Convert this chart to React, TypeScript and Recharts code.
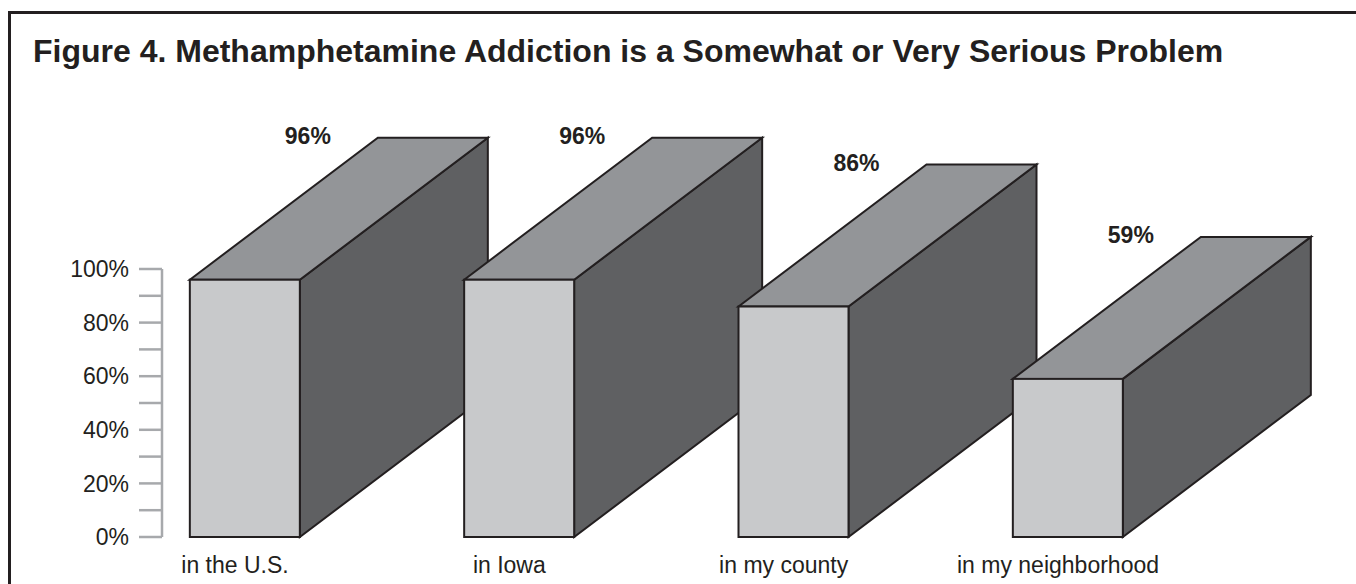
import React from "react";
import { BarChart, Bar, XAxis, YAxis, LabelList } from "recharts";

const categories = ["in the U.S.", "in Iowa", "in my county", "in my neighborhood"];
const seriousPct = [96, 96, 86, 59];
const yTicks = [0, 10, 20, 30, 40, 50, 60, 70, 80, 90, 100];

const data = categories.map((name, i) => ({ name, pos: i, value: seriousPct[i] }));

// depth of the fake 3d box
const DX = 188;
const DY = 142;
const EDGE = "#231f20";
const FONT = "'Liberation Sans', Arial, Helvetica, sans-serif";

const Box3D = (props: any) => {
  const { x, y, width: w, height: h } = props;
  if (x == null || y == null) return null;
  const right = `${x + w},${y} ${x + w + DX},${y - DY} ${x + w + DX},${y + h - DY} ${x + w},${y + h}`;
  const top = `${x},${y} ${x + DX},${y - DY} ${x + w + DX},${y - DY} ${x + w},${y}`;
  return (
    <g stroke={EDGE} strokeWidth={2} strokeLinejoin="miter">
      <polygon points={right} fill="#5f6062" />
      <polygon points={top} fill="#939598" />
      <rect x={x} y={y} width={w} height={h} fill="#c8c9cb" />
    </g>
  );
};

const TopLabel = (props: any) => {
  const { x, y, width, value } = props;
  return (
    <text
      x={x + width + 8}
      y={y - DY - 2}
      textAnchor="middle"
      dominantBaseline="central"
      fontFamily={FONT}
      fontWeight="bold"
      fontSize={23}
      fill={EDGE}
    >
      {value}%
    </text>
  );
};

export default function App() {
  return (
    <div style={{ position: "absolute", left: 0, top: 0, width: 1356, height: 584, background: "#fff" }}>
      <div
        style={{
          position: "absolute",
          left: 8,
          top: 11,
          right: 0,
          bottom: 0,
          borderTop: `3px solid ${EDGE}`,
          borderLeft: `3px solid ${EDGE}`,
        }}
      />
      <div
        style={{
          position: "absolute",
          left: 33,
          top: 35,
          fontFamily: FONT,
          fontWeight: "bold",
          fontSize: 32,
          lineHeight: "32px",
          color: EDGE,
          whiteSpace: "nowrap",
        }}
      >
        Figure 4. Methamphetamine Addiction is a Somewhat or Very Serious Problem
      </div>
      <BarChart
        width={1356}
        height={584}
        data={data}
        margin={{ top: 269, right: 0, bottom: 0, left: 0 }}
        style={{ position: "absolute", left: 0, top: 0 }}
      >
        <XAxis
          type="number"
          dataKey="pos"
          domain={[0, 3]}
          ticks={[0, 1, 2, 3]}
          interval={0}
          padding={{ left: 83, right: 288 }}
          tickFormatter={(i: number) => categories[i]}
          axisLine={false}
          tickLine={false}
          tickSize={0}
          tickMargin={20}
          height={47}
          tick={{ fontSize: 23, fill: EDGE, fontFamily: FONT, dx: -10 }}
        />
        <YAxis
          domain={[0, 100]}
          ticks={yTicks}
          interval={0}
          width={162}
          tickSize={23}
          tickMargin={10}
          tickFormatter={(v: number) => (v % 20 === 0 ? `${v}%` : "")}
          axisLine={{ stroke: "#a7a9ac", strokeWidth: 2.5 }}
          tickLine={{ stroke: "#a7a9ac", strokeWidth: 2.5 }}
          tick={{ fontSize: 23, fill: EDGE, fontFamily: FONT }}
        />
        <Bar dataKey="value" barSize={110} shape={Box3D} isAnimationActive={false}>
          <LabelList dataKey="value" content={TopLabel} />
        </Bar>
      </BarChart>
    </div>
  );
}
